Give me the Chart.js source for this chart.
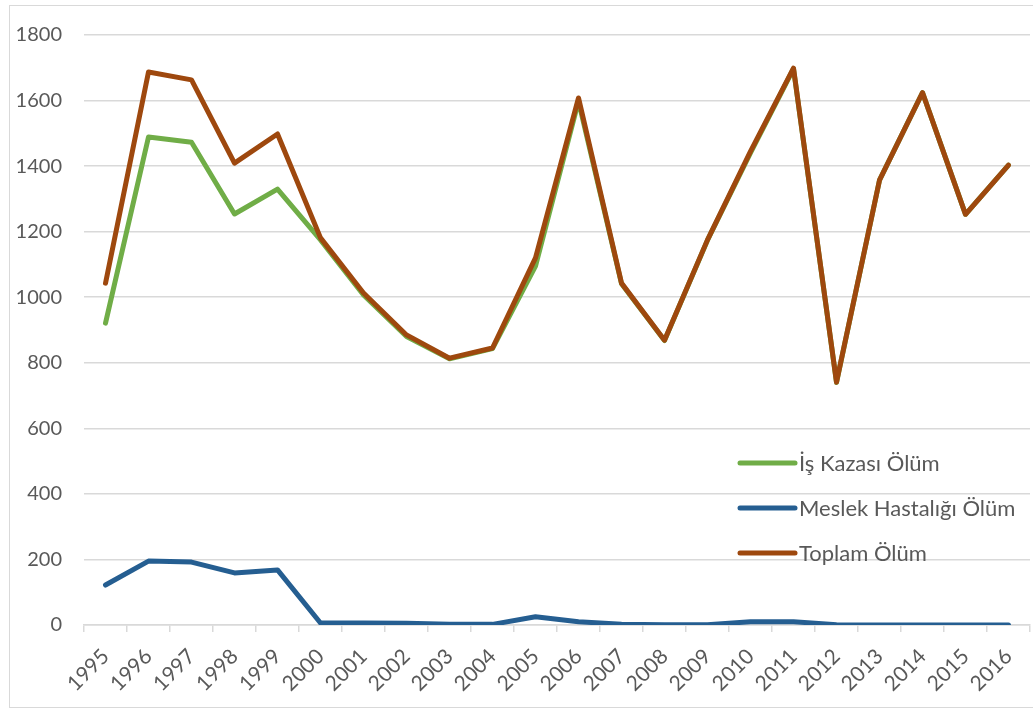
<!DOCTYPE html>
<html>
<head>
<meta charset="utf-8">
<script src="https://cdn.jsdelivr.net/npm/chart.js@4/dist/chart.umd.min.js"></script>
<style>
  body { margin: 0; background: #fff; overflow: hidden; }
  #frame { position: absolute; left: 9px; top: 5px; width: 1040px; height: 703px; border: 1px solid #D9D9D9; box-sizing: border-box; }
  #chart { position: absolute; left: 0; top: 0; }
</style>
</head>
<body>
<div id="frame"></div>
<canvas id="chart" width="1033" height="711"></canvas>
<script>
const years = ['1995', '1996', '1997', '1998', '1999', '2000', '2001', '2002', '2003', '2004', '2005',
    '2006', '2007', '2008', '2009', '2010', '2011', '2012', '2013', '2014', '2015', '2016'];
const isKazasiOlum = [921, 1489, 1473, 1254, 1330, 1175, 1007, 880, 812, 843, 1095,
    1598, 1041, 868, 1174, 1440, 1697, 740, 1357, 1624, 1253, 1403];
const meslekHastaligiOlum = [122, 195, 192, 159, 168, 6, 6, 5, 2, 2, 25,
    10, 2, 1, 1, 10, 10, 1, 0, 0, 0, 0];
const toplamOlum = [1043, 1687, 1663, 1409, 1498, 1181, 1013, 885, 814, 845, 1120,
    1608, 1043, 869, 1175, 1445, 1699, 741, 1357, 1624, 1253, 1403];

const FONT = 'Lato, "Noto Sans", sans-serif';
const TEXT = '#595959';
const GRID = '#D9D9D9';

// legend drawn inside the plot area, lower right
const legendInPlot = {
    id: 'legendInPlot',
    afterDraw(chart) {
        const ctx = chart.ctx;
        const x0 = 740, len = 55, y0 = 463, gap = 45;
        ctx.save();
        ctx.font = '22px ' + FONT;
        ctx.textBaseline = 'middle';
        ctx.fillStyle = TEXT;
        chart.data.datasets.forEach((ds, i) => {
            let y = y0 + i * gap;
            ctx.strokeStyle = ds.borderColor;
            ctx.lineWidth = 5;
            ctx.lineCap = 'round';
            ctx.beginPath();
            ctx.moveTo(x0, y);
            ctx.lineTo(x0 + len, y);
            ctx.stroke();
            ctx.fillText(ds.label, x0 + len + 4, y + 1);
        });
        ctx.restore();
    }
};

const lineStyle = { borderWidth: 5, pointRadius: 0, tension: 0, borderJoinStyle: 'round', borderCapStyle: 'round', fill: false };

new Chart(document.getElementById('chart'), {
    type: 'line',
    data: {
        labels: years,
        datasets: [
            { label: 'İş Kazası Ölüm', data: isKazasiOlum, borderColor: '#70AD47', order: 2, ...lineStyle },
            { label: 'Meslek Hastalığı Ölüm', data: meslekHastaligiOlum, borderColor: '#255E91', order: 1, ...lineStyle },
            { label: 'Toplam Ölüm', data: toplamOlum, borderColor: '#9E480E', order: 0, ...lineStyle }
        ]
    },
    options: {
        responsive: false,
        animation: false,
        layout: { padding: { left: 0, top: 35, right: 3, bottom: 0 } },
        plugins: { legend: { display: false }, tooltip: { enabled: false } },
        scales: {
            x: {
                offset: true,
                grid: { offset: true, drawOnChartArea: false, drawTicks: true, tickLength: 7, color: GRID, lineWidth: 1.5 },
                border: { color: GRID, width: 1.5 },
                ticks: { color: TEXT, font: { family: FONT, size: 21 }, maxRotation: 45, minRotation: 45, padding: 12, autoSkip: false },
                afterFit: (scale) => {
                    scale.height = 86;
                    scale.paddingLeft = 0;
                    scale.paddingRight = 0;
                }
            },
            y: {
                min: 0,
                max: 1800,
                grid: { color: GRID, lineWidth: 1.5, drawTicks: false },
                border: { display: false },
                ticks: { stepSize: 200, color: TEXT, font: { family: FONT, size: 20 }, padding: 22, callback: (v) => String(v) },
                afterFit: (scale) => { scale.width = 84; }
            }
        }
    },
    plugins: [legendInPlot]
});
</script>
</body>
</html>
